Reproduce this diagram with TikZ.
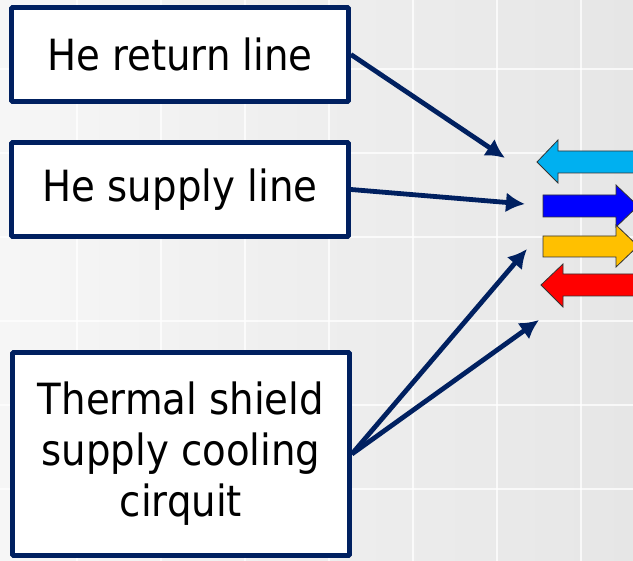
\documentclass[tikz,border=0pt]{standalone}
\usepackage{fontspec}
\setsansfont{DejaVu Sans Condensed}
\usetikzlibrary{arrows.meta}
\definecolor{navy}{HTML}{002060}
\definecolor{bgleft}{HTML}{F6F6F6}
\definecolor{bgright}{HTML}{E6E6E6}
\definecolor{coldret}{HTML}{00B0F0}
\definecolor{coldsup}{HTML}{0000FF}
\definecolor{warmsup}{HTML}{FFC000}
\definecolor{warmret}{HTML}{FF0000}

\begin{document}
\begin{tikzpicture}[x=1pt,y=-1pt,
    font=\sffamily\fontsize{43}{51}\selectfont,
    linebox/.style={draw=navy, line width=4.8pt, fill=white, rounded corners=1pt,
      minimum width=337pt, inner sep=0pt, align=center},
    feed/.style={navy, line width=4.8pt, -{Latex[length=19pt,width=20pt]}},
    pipe/.style={draw=black!80, line width=0.8pt}]
  \useasboundingbox (0,0) rectangle (633,561);
  \clip (0,0) rectangle (633,561);
  \shade[left color=bgleft, right color=bgright] (0,0) rectangle (633,561);
  \foreach \x in {77,161,...,581}
    \draw[white, opacity=0.75, line width=1.2pt] (\x,0) -- (\x,561);
  \foreach \y in {69,153,...,489}
    \draw[white, opacity=0.75, line width=1.2pt] (0,\y) -- (633,\y);

  % labels
  \node[linebox, minimum height=94pt] (ret) at (180,54.5) {He return line};
  \node[linebox, minimum height=94pt] (sup) at (180,189.5) {He supply line};
  \node[linebox, minimum height=203pt] (shd) at (181,454)
       {Thermal shield\\supply cooling\\cirquit};

  % free ends near the pipes
  \coordinate (retend) at (505,158);
  \coordinate (supend) at (525,204);
  \coordinate (shdend) at (527,249);
  \coordinate (shdback) at (539,320);

  \draw[feed] (ret.east) -- (retend);
  \draw[feed] (sup.east) -- (supend);
  \draw[feed] (shd.east) -- (shdend);
  \draw[feed] (shd.east) -- (shdback);

  % pipe arrows
  \draw[pipe, fill=coldret] (537,162) -- (558,140) -- (558,151) -- (640,151)
    -- (640,173) -- (558,173) -- (558,183) -- cycle;
  \draw[pipe, fill=coldsup] (543,195) -- (616,195) -- (616,185) -- (638,206)
    -- (616,227) -- (616,217) -- (543,217) -- cycle;
  \draw[pipe, fill=warmsup] (543,236) -- (616,236) -- (616,225) -- (638,246)
    -- (616,267) -- (616,257) -- (543,257) -- cycle;
  \draw[pipe, fill=warmret] (541,285) -- (563,264) -- (563,274) -- (640,274)
    -- (640,296) -- (563,296) -- (563,307) -- cycle;
\end{tikzpicture}
\end{document}
